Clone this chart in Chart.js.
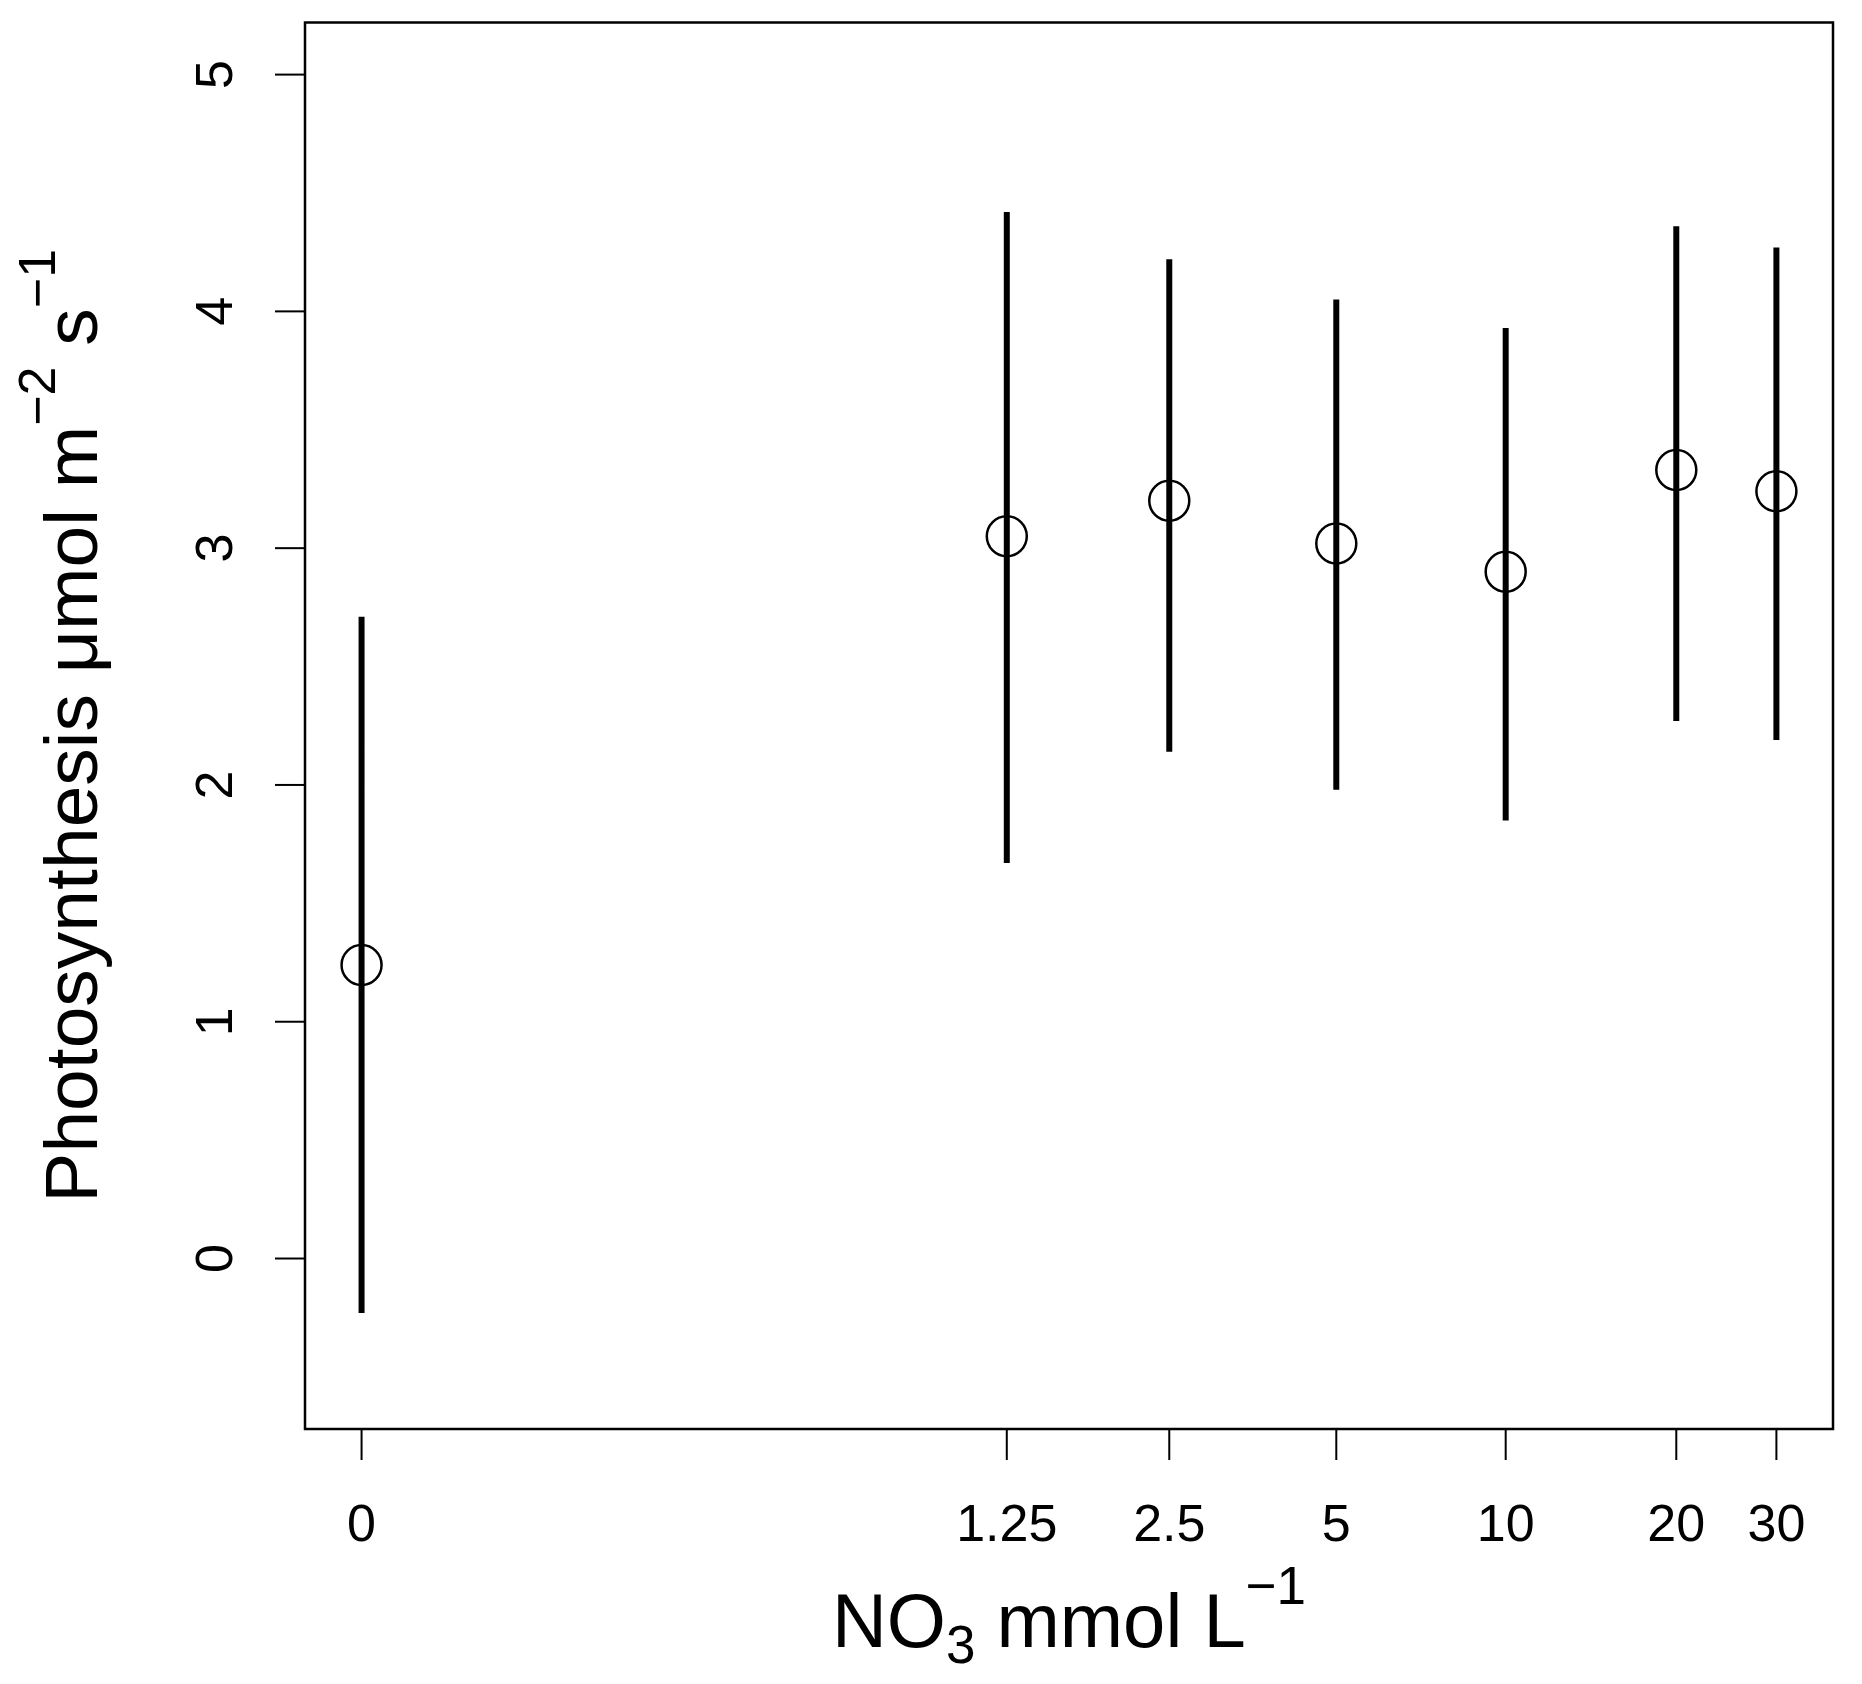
<!DOCTYPE html>
<html>
<head>
<meta charset="utf-8">
<script src="https://cdn.jsdelivr.net/npm/chart.js@4/dist/chart.umd.min.js"></script>
<style>
html, body { margin: 0; padding: 0; background: #fff; }
canvas { display: block; }
</style>
</head>
<body>
<canvas id="Plot" width="1862" height="1684"></canvas>
<script>
// nitrate dose (mmol/L) vs photosynthesis, mean and bar ends
var doses = [0, 1.25, 2.5, 5, 10, 20, 30];
var doseLabels = ["0", "1.25", "2.5", "5", "10", "20", "30"];
var meanPhoto = [1.24, 3.05, 3.20, 3.02, 2.90, 3.33, 3.24];
var upperPhoto = [2.71, 4.42, 4.22, 4.05, 3.93, 4.36, 4.27];
var lowerPhoto = [-0.23, 1.67, 2.14, 1.98, 1.85, 2.27, 2.19];
var yTicks = [0, 1, 2, 3, 4, 5];
var yTickLabels = ["0", "1", "2", "3", "4", "5"];

// log axis can't take 0 so doses are shifted by a little
var shift = 0.1;
var FONT = '"Liberation Sans", Arial, sans-serif';

var meanPoints = doses.map(function(d, i) {
    return {x: d + shift, y: meanPhoto[i]};
});

// one segment per dose, broken with a null
var barPoints = [];
doses.forEach(function(d, i) {
    barPoints.push({x: d + shift, y: lowerPhoto[i]});
    barPoints.push({x: d + shift, y: upperPhoto[i]});
    barPoints.push({x: d + shift, y: null});
});

// draw text made of pieces (sub/superscripts) centred on 0
function drawPieces(ctx, pieces) {
    var total = 0;
    pieces.forEach(function(p) {
        ctx.font = p.size + 'px ' + FONT;
        p.w = ctx.measureText(p.t).width;
        total += p.w;
    });
    var x = -total / 2;
    ctx.textAlign = 'left';
    ctx.textBaseline = 'alphabetic';
    pieces.forEach(function(p) {
        ctx.font = p.size + 'px ' + FONT;
        ctx.fillText(p.t, x, p.dy);
        x += p.w;
    });
}

var rAxes = {
    id: 'rAxes',
    afterDraw: function(chart) {
        var ctx = chart.ctx, a = chart.chartArea;
        var xs = chart.scales.x, ys = chart.scales.y;
        ctx.save();
        ctx.strokeStyle = '#000';
        ctx.fillStyle = '#000';
        ctx.lineWidth = 2.5;
        ctx.strokeRect(a.left, a.top, a.right - a.left, a.bottom - a.top);

        ctx.lineWidth = 2;
        ctx.font = '52px ' + FONT;
        ctx.textAlign = 'center';
        ctx.textBaseline = 'alphabetic';
        doses.forEach(function(d, i) {
            var px = xs.getPixelForValue(d + shift);
            ctx.beginPath();
            ctx.moveTo(px, a.bottom);
            ctx.lineTo(px, a.bottom + 31);
            ctx.stroke();
            ctx.fillText(doseLabels[i], px, a.bottom + 112);
        });

        yTicks.forEach(function(v, i) {
            var py = ys.getPixelForValue(v);
            ctx.beginPath();
            ctx.moveTo(a.left - 30, py);
            ctx.lineTo(a.left, py);
            ctx.stroke();
            ctx.save();
            ctx.translate(a.left - 73, py);
            ctx.rotate(-Math.PI / 2);
            ctx.textAlign = 'center';
            ctx.fillText(yTickLabels[i], 0, 0);
            ctx.restore();
        });

        // x title
        ctx.save();
        ctx.translate((a.left + a.right) / 2, 1647);
        drawPieces(ctx, [
            {t: 'NO', size: 76, dy: 0},
            {t: '3', size: 53, dy: 16},
            {t: ' mmol L', size: 76, dy: 0},
            {t: '\u22121', size: 53, dy: -43}
        ]);
        ctx.restore();

        // y title
        ctx.save();
        ctx.translate(97, (a.top + a.bottom) / 2);
        ctx.rotate(-Math.PI / 2);
        drawPieces(ctx, [
            {t: 'Photosynthesis \u03bcmol m', size: 75, dy: 0},
            {t: '\u22122', size: 52, dy: -42},
            {t: ' s', size: 75, dy: 0},
            {t: '\u22121', size: 52, dy: -42}
        ]);
        ctx.restore();
        ctx.restore();
    }
};

var ctx = document.getElementById("Plot").getContext("2d");

var photoChart = new Chart(ctx, {
    type: 'scatter',
    data: {
        datasets: [
            {
                label: "Mean",
                data: meanPoints,
                pointStyle: 'circle',
                pointRadius: 20,
                pointHoverRadius: 20,
                pointBorderWidth: 2.5,
                pointBorderColor: "black",
                pointBackgroundColor: "rgba(0,0,0,0)",
                showLine: false
            },
            {
                type: 'line',
                label: "Range",
                data: barPoints,
                borderColor: "black",
                borderWidth: 6,
                borderCapStyle: 'butt',
                pointRadius: 0,
                pointHoverRadius: 0,
                fill: false,
                spanGaps: false,
                tension: 0
            }
        ]
    },
    options: {
        responsive: false,
        animation: false,
        events: [],
        layout: {padding: {left: 305, top: 20, right: 29, bottom: 255}},
        plugins: {legend: {display: false}, tooltip: {enabled: false}},
        scales: {
            x: {type: 'logarithmic', display: false, bounds: 'data', min: 0.0796, max: 37.82},
            y: {type: 'linear', display: false, bounds: 'data', min: -0.72, max: 5.22}
        }
    },
    plugins: [rAxes]
});
</script>
</body>
</html>
